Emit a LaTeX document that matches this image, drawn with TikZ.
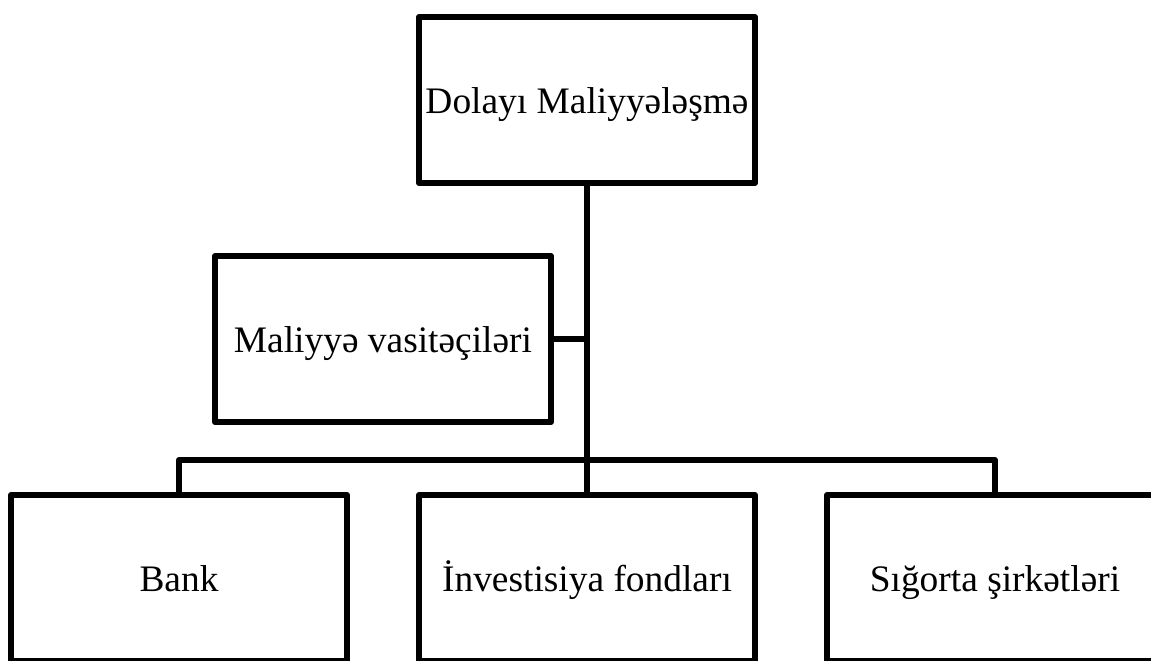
\documentclass[tikz,border=0pt]{standalone}
\usepackage{fontspec}
\setmainfont{Liberation Serif}
\begin{document}
\begin{tikzpicture}[x=0.5pt,y=-0.5pt,
  box/.style={draw=black, line width=3pt, line join=round, fill=white, inner sep=0pt,
    minimum width=168pt, minimum height=83pt, text height=13.5pt, text depth=0pt,
    font=\fontsize{18.7}{22}\selectfont, text=black},
  link/.style={draw=black, line width=3pt}]
\useasboundingbox (0,0) rectangle (1151,660);
\clip (0,0) rectangle (1151,660);
\node[box] (top) at (587,100) {Dolayı Maliyyələşmə};
\node[box] (mid) at (383,339) {Maliyyə vasitəçiləri};
\node[box] (bank) at (179,578) {Bank};
\node[box] (inv) at (587,578) {İnvestisiya fondları};
\node[box] (sig) at (995,578) {Sığorta şirkətləri};
\coordinate (hub) at (587,460);
\coordinate (bl) at (bank.north |- hub);
\coordinate (br) at (sig.north |- hub);
\coordinate (st) at (587,339);
\draw[link] (top.south) -- (hub) -- (inv.north);
\draw[link] (mid.east) -- (st);
\draw[link, line join=round] (bank.north) -- (bl) -- (br) -- (sig.north);
\end{tikzpicture}
\end{document}
